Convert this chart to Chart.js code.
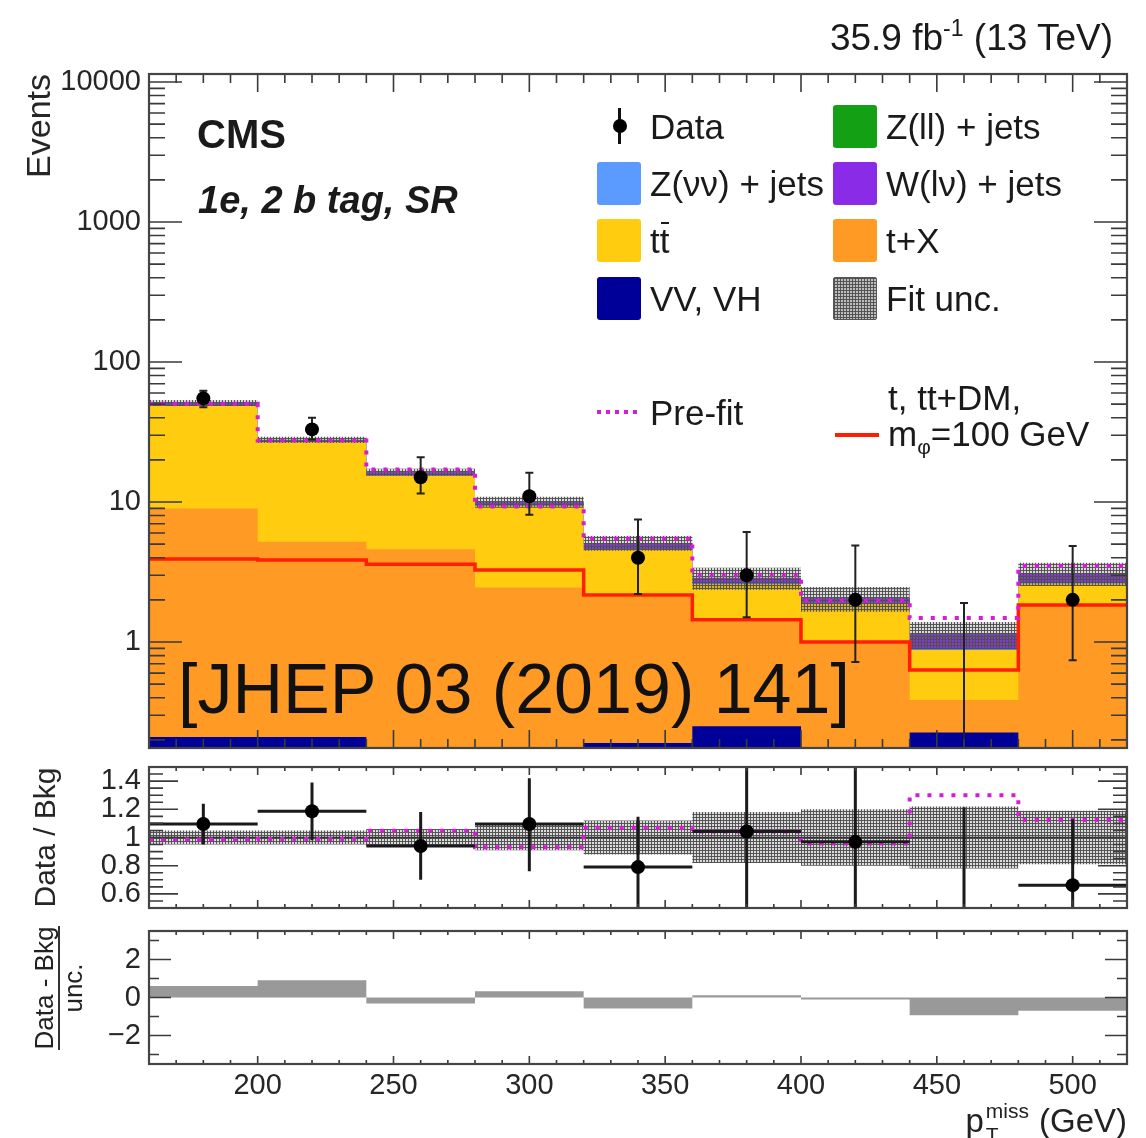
<!DOCTYPE html>
<html>
<head>
<meta charset="utf-8">
<script src="https://cdn.jsdelivr.net/npm/chart.js@4.4.1/dist/chart.umd.min.js"></script>
<style>
html,body{margin:0;padding:0;background:#fff;}
#wrap{position:relative;width:1146px;height:1138px;overflow:hidden;font-family:"Liberation Sans",Arial,Helvetica,sans-serif;color:#1a1a1a;}
#wrap canvas{position:absolute;left:0;}
.t{position:absolute;white-space:nowrap;line-height:1;}
.sw{position:absolute;width:44px;height:43px;border-radius:3px;}
</style>
</head>
<body>
<div id="wrap">
<canvas id="cMain" width="1146" height="760" style="top:0px"></canvas>
<canvas id="cRatio" width="1146" height="160" style="top:760px"></canvas>
<canvas id="cPull" width="1146" height="218" style="top:920px"></canvas>

<div class="t" style="right:33px;top:19px;font-size:37px;">35.9 fb<span style="font-size:23px;position:relative;top:-14px;">-1</span> (13 TeV)</div>
<div class="t" style="left:197px;top:114px;font-size:40px;font-weight:bold;">CMS</div>
<div class="t" style="left:198px;top:181px;font-size:38px;font-weight:bold;font-style:italic;">1e, 2 b tag, SR</div>
<div class="t" style="left:178px;top:654px;font-size:70px;color:#111;">[JHEP 03 (2019) 141]</div>

<div style="position:absolute;left:0;top:0;width:124px;transform-origin:0 0;transform:translate(31px,1050px) rotate(-90deg);text-align:center;font-size:26px;color:#222;white-space:nowrap;">
  <div style="line-height:27px;border-bottom:2.5px solid #333;">Data - Bkg</div>
  <div style="line-height:27px;">unc.</div>
</div>

<div class="t" style="right:19px;top:1104px;font-size:33px;color:#222;">p<span style="display:inline-block;position:relative;width:46px;height:1px;"><span style="position:absolute;left:2px;top:-31px;font-size:21px;line-height:1;">miss</span><span style="position:absolute;left:2px;top:-7px;font-size:21px;line-height:1;">T</span></span> (GeV)</div>

<div id="legend"></div>
</div>

<script>
// ---------------- data ----------------
const binEdges = [160, 200, 240, 280, 320, 360, 400, 440, 480, 520];
// post-fit backgrounds per process, events per bin (stack order: bottom first)
const vvVH   = [0.21, 0.21, 0.15, 0.14, 0.19, 0.25, 0.12, 0.226, 0.12];
const tPlusX = [8.79, 4.99, 4.45, 2.31, 1.91, 1.15, 0.86, 0.159, 1.68];
const ttbar  = [39.5, 21.6, 10.8, 6.95, 2.5, 1.2, 0.92, 0.492, 0.82];
const zNuNu  = [0.10, 0.05, 0.03, 0.03, 0.02, 0.02, 0.01, 0.01, 0.02];
const wLNu   = [2.35, 0.92, 0.85, 0.55, 0.47, 0.25, 0.14, 0.248, 0.45];
const zLL    = [0.05, 0.03, 0.02, 0.02, 0.01, 0.01, 0.01, 0.005, 0.01];
const fitUncRel = [0.05, 0.05, 0.06, 0.09, 0.12, 0.18, 0.20, 0.22, 0.19];
const prefitOverPostfit = [0.985, 0.99, 1.048, 0.93, 1.07, 1.043, 0.957, 1.30, 1.124];
const signalDM = [3.92, 3.85, 3.6, 3.27, 2.17, 1.44, 1.0, 0.63, 1.84];
const dataCounts  = [55, 33, 15, 11, 4, 3, 2, 0, 2];
const dataErrHigh = [62.4, 40, 20.9, 16.2, 7.5, 6.1, 4.9, 1.9, 4.85];
const dataErrLow  = [47.6, 28, 11.5, 8.1, 2.2, 1.5, 0.72, 0, 0.74];
const ratioData    = [1.096, 1.186, 0.94, 1.096, 0.79, 1.043, 0.969, null, 0.662];
const ratioErrHigh = [1.24, 1.39, 1.18, 1.42, 1.148, 2.05, 2.25, 1.214, 1.13];
const ratioErrLow  = [0.95, 0.98, 0.70, 0.76, 0.43, 0.48, 0.34, 0.0, 0.24];
const pulls = [0.6, 0.91, -0.32, 0.33, -0.58, 0.12, -0.1, -0.93, -0.7];
const yTicksMain  = [1, 10, 100, 1000, 10000];
const yTicksRatio = [0.6, 0.8, 1, 1.2, 1.4];
const yTicksPull  = [-2, 0, 2];
const xTicks = [200, 250, 300, 350, 400, 450, 500];

// ---------------- helpers ----------------
Chart.defaults.font.family = "'Liberation Sans', Arial, Helvetica, sans-serif";
const FONT = "'Liberation Sans', Arial, Helvetica, sans-serif";
const centers = binEdges.slice(0, -1).map((e, i) => (e + binEdges[i + 1]) / 2);
function histPts(vals) {
  const pts = vals.map((v, i) => ({x: binEdges[i], y: v}));
  pts.push({x: binEdges[binEdges.length - 1], y: vals[vals.length - 1]});
  return pts;
}
const layers = [
  {label: 'VV, VH', vals: vvVH, color: '#000099'},
  {label: 't+X', vals: tPlusX, color: '#FF9A24'},
  {label: 'tt', vals: ttbar, color: '#FFCC10'},
  {label: 'Z(νν) + jets', vals: zNuNu, color: '#5B9BFF'},
  {label: 'W(lν) + jets', vals: wLNu, color: '#8A2BE8'},
  {label: 'Z(ll) + jets', vals: zLL, color: '#14A014'}
];
const cumulative = [];
layers.forEach((L, k) => cumulative.push(L.vals.map((v, i) => v + (k ? cumulative[k - 1][i] : 0))));
const postfitTotal = cumulative[cumulative.length - 1];
const prefitTotal = postfitTotal.map((t, i) => t * prefitOverPostfit[i]);

function makeHatch() {
  const c = document.createElement('canvas');
  c.width = 3; c.height = 3;
  const g = c.getContext('2d');
  g.fillStyle = 'rgba(110,110,110,0.25)';
  g.fillRect(0, 0, 3, 3);
  g.fillStyle = 'rgba(80,80,80,0.95)';
  g.fillRect(0, 0, 3, 1);
  g.fillRect(0, 0, 1, 3);
  return g.createPattern(c, 'repeat');
}
const hatch = makeHatch();

const MAGENTA = '#D61CD6';
const RED = '#FF1E00';

function fitAxis(w) {
  return s => { s.width = w; s.paddingTop = 0; s.paddingBottom = 0; s.paddingLeft = 0; s.paddingRight = 0; };
}
const xMinor = [];
for (let v = 170; v < 520; v += 10) if (v % 50 !== 0) xMinor.push(v);

function rootFrame(cfg) {
  return {
    id: 'rootFrame',
    afterDatasetDraw(chart, args) {
      if (cfg.refLine == null || args.index !== cfg.refAfter) return;
      const {ctx, chartArea: a, scales: {y}} = chart;
      const p = y.getPixelForValue(cfg.refLine);
      ctx.save();
      ctx.strokeStyle = '#333'; ctx.lineWidth = 1.5;
      ctx.beginPath(); ctx.moveTo(a.left, p); ctx.lineTo(a.right, p); ctx.stroke();
      ctx.restore();
    },
    afterDatasetsDraw(chart) {
      const {ctx, chartArea: a, scales: {x, y}} = chart;
      ctx.save();
      ctx.strokeStyle = '#3a3a3a';
      ctx.lineWidth = 1.6;
      ctx.beginPath();
      const yt = (v, len) => {
        const p = y.getPixelForValue(v);
        if (p < a.top - 0.5 || p > a.bottom + 0.5) return;
        ctx.moveTo(a.left, p); ctx.lineTo(a.left + len, p);
        ctx.moveTo(a.right, p); ctx.lineTo(a.right - len, p);
      };
      const xt = (v, len) => {
        const p = x.getPixelForValue(v);
        ctx.moveTo(p, a.bottom); ctx.lineTo(p, a.bottom - len);
        ctx.moveTo(p, a.top); ctx.lineTo(p, a.top + len);
      };
      cfg.yMajor.forEach(v => yt(v, cfg.yMajorLen));
      cfg.yMinor.forEach(v => yt(v, cfg.yMinorLen));
      xTicks.forEach(v => xt(v, cfg.xMajorLen));
      xMinor.forEach(v => xt(v, cfg.xMinorLen));
      ctx.stroke();
      ctx.lineWidth = 2.2;
      ctx.strokeStyle = '#444';
      ctx.strokeRect(a.left, a.top, a.right - a.left, a.bottom - a.top);
      ctx.restore();
    }
  };
}

const errorBars = {
  id: 'errorBars',
  beforeDatasetDraw(chart, args) {
    const ds = chart.data.datasets[args.index];
    if (!ds.errHigh) return;
    const {ctx, chartArea: a, scales: {x, y}} = chart;
    const isLog = y.type === 'logarithmic';
    ctx.save();
    ctx.beginPath(); ctx.rect(a.left, a.top, a.right - a.left, a.bottom - a.top); ctx.clip();
    ctx.strokeStyle = ds.errColor; ctx.lineWidth = ds.errWidth;
    ctx.beginPath();
    ds.centersX.forEach((c, i) => {
      const hi = ds.errHigh[i], lo = ds.errLow[i];
      const px = x.getPixelForValue(c);
      const pHi = y.getPixelForValue(hi);
      const pLo = (isLog && !(lo > 0)) ? a.bottom + 5 : y.getPixelForValue(lo);
      ctx.moveTo(px, pHi); ctx.lineTo(px, pLo);
      if (ds.cap) {
        ctx.moveTo(px - ds.cap, pHi); ctx.lineTo(px + ds.cap, pHi);
        if (!(isLog && !(lo > 0))) { ctx.moveTo(px - ds.cap, pLo); ctx.lineTo(px + ds.cap, pLo); }
      }
      const v = ds.data[i].y;
      if (ds.xErr && v != null) {
        const pv = y.getPixelForValue(v);
        ctx.moveTo(x.getPixelForValue(binEdges[i]), pv);
        ctx.lineTo(x.getPixelForValue(binEdges[i + 1]), pv);
      }
    });
    ctx.stroke();
    ctx.restore();
  }
};

const tickFont = {family: FONT, size: 29};
const tickColor = '#262626';

// ---------------- main panel ----------------
const mainDatasets = [];
layers.forEach((L, k) => {
  mainDatasets.push({
    label: L.label, data: histPts(cumulative[k]), stepped: 'before', fill: 'start',
    backgroundColor: L.color, borderColor: L.color, borderWidth: 0, pointRadius: 0, order: 20 + k
  });
});
mainDatasets.push({label: 'Fit unc. up', data: histPts(postfitTotal.map((t, i) => t * (1 + fitUncRel[i]))),
  stepped: 'before', fill: '+1', backgroundColor: hatch, borderWidth: 0, pointRadius: 0, order: 10});
mainDatasets.push({label: 'Fit unc. down', data: histPts(postfitTotal.map((t, i) => t * (1 - fitUncRel[i]))),
  stepped: 'before', fill: false, borderWidth: 0, pointRadius: 0, order: 11});
mainDatasets.push({label: 't, tt+DM', data: histPts(signalDM), stepped: 'before', fill: false,
  borderColor: RED, borderWidth: 3.5, pointRadius: 0, order: 5});
mainDatasets.push({label: 'Pre-fit', data: histPts(prefitTotal), stepped: 'before', fill: false,
  borderColor: MAGENTA, borderWidth: 4, borderDash: [4, 8], borderCapStyle: 'butt', pointRadius: 0, order: 4});
mainDatasets.push({label: 'Data', data: dataCounts.map((v, i) => ({x: centers[i], y: v > 0 ? v : null})),
  showLine: false, pointRadius: 7, pointBackgroundColor: '#000', pointBorderWidth: 0, order: 1,
  centersX: centers, errHigh: dataErrHigh, errLow: dataErrLow, errColor: '#222', errWidth: 2, cap: 4});

const logMinor = [];
for (let d = -1; d <= 4; d++) for (let k = 2; k <= 9; k++) logMinor.push(k * Math.pow(10, d));

const noGrid = {display: false, drawTicks: false};

new Chart(document.getElementById('cMain'), {
  type: 'line',
  data: {datasets: mainDatasets},
  options: {
    responsive: false, animation: false, events: [],
    layout: {padding: {left: 0, right: 19, top: 74, bottom: 12}},
    plugins: {legend: {display: false}, tooltip: {enabled: false}},
    scales: {
      x: {type: 'linear', min: 160, max: 520, display: false},
      y: {
        type: 'logarithmic', min: 0.175, max: 11400,
        afterBuildTicks: s => { s.ticks = yTicksMain.map(v => ({value: v})); },
        afterFit: fitAxis(149),
        grid: noGrid, border: {display: false},
        ticks: {autoSkip: false, padding: 8, color: tickColor, font: tickFont, callback: v => String(v)},
        title: {display: true, text: 'Events', align: 'end', color: '#262626', font: {family: FONT, size: 34}, padding: {top: 20, bottom: 0}}
      }
    }
  },
  plugins: [errorBars, rootFrame({yMajor: [0.1, 1, 10, 100, 1000, 10000], yMinor: logMinor, yMajorLen: 33, yMinorLen: 16, xMajorLen: 18, xMinorLen: 9})]
});

// ---------------- ratio panel ----------------
const ratioMinor = [];
for (let k = 10; k <= 30; k++) { const v = k * 0.05; if (k % 4 !== 0) ratioMinor.push(Math.round(v * 100) / 100); }
new Chart(document.getElementById('cRatio'), {
  type: 'line',
  data: {datasets: [
    {label: 'Fit unc. up', data: histPts(fitUncRel.map(u => 1 + u)), stepped: 'before', fill: '+1',
      backgroundColor: hatch, borderWidth: 0, pointRadius: 0, order: 10},
    {label: 'Fit unc. down', data: histPts(fitUncRel.map(u => 1 - u)), stepped: 'before', fill: false,
      borderWidth: 0, pointRadius: 0, order: 11},
    {label: 'Pre-fit', data: histPts(prefitOverPostfit), stepped: 'before', fill: false,
      borderColor: MAGENTA, borderWidth: 4, borderDash: [4, 8], borderCapStyle: 'butt', pointRadius: 0, order: 4},
    {label: 'Data', data: ratioData.map((v, i) => ({x: centers[i], y: v})), showLine: false,
      pointRadius: 7, pointBackgroundColor: '#000', pointBorderWidth: 0, order: 1,
      centersX: centers, errHigh: ratioErrHigh, errLow: ratioErrLow, errColor: '#1a1a1a', errWidth: 3, xErr: true}
  ]},
  options: {
    responsive: false, animation: false, events: [],
    layout: {padding: {left: 0, right: 19, top: 6, bottom: 12}},
    plugins: {legend: {display: false}, tooltip: {enabled: false}},
    scales: {
      x: {type: 'linear', min: 160, max: 520, display: false},
      y: {
        type: 'linear', min: 0.5, max: 1.5,
        afterBuildTicks: s => { s.ticks = yTicksRatio.map(v => ({value: v})); },
        afterFit: fitAxis(149),
        grid: noGrid, border: {display: false},
        ticks: {autoSkip: false, padding: 8, color: tickColor, font: tickFont, callback: v => String(Math.round(v * 10) / 10)},
        title: {display: true, text: 'Data / Bkg', align: 'center', color: '#262626', font: {family: FONT, size: 30}, padding: {top: 29, bottom: 0}}
      }
    }
  },
  plugins: [errorBars, rootFrame({yMajor: [0.6, 0.8, 1.0, 1.2, 1.4], yMinor: ratioMinor, yMajorLen: 29, yMinorLen: 14, xMajorLen: 8, xMinorLen: 4, refLine: 1, refAfter: 0})]
});

// ---------------- pull panel ----------------
new Chart(document.getElementById('cPull'), {
  type: 'line',
  data: {datasets: [
    {label: '(Data - Bkg)/unc.', data: histPts(pulls), stepped: 'before', fill: {value: 0},
      backgroundColor: '#999999', borderWidth: 0, pointRadius: 0}
  ]},
  options: {
    responsive: false, animation: false, events: [],
    layout: {padding: {left: 0, right: 19, top: 11, bottom: 0}},
    plugins: {legend: {display: false}, tooltip: {enabled: false}},
    scales: {
      x: {
        type: 'linear', min: 160, max: 520, position: 'bottom',
        afterBuildTicks: s => { s.ticks = xTicks.map(v => ({value: v})); },
        afterFit: s => { s.height = 74; s.paddingLeft = 0; s.paddingRight = 0; s.paddingTop = 0; s.paddingBottom = 0; },
        grid: noGrid, border: {display: false},
        ticks: {autoSkip: false, maxRotation: 0, padding: 5, color: tickColor, font: tickFont, callback: v => String(v)}
      },
      y: {
        type: 'linear', min: -3.5, max: 3.5,
        afterBuildTicks: s => { s.ticks = yTicksPull.map(v => ({value: v})); },
        afterFit: fitAxis(149),
        grid: noGrid, border: {display: false},
        ticks: {autoSkip: false, padding: 8, color: tickColor, font: tickFont, callback: v => (v < 0 ? '\u2212' + Math.abs(v) : String(v))}
      }
    }
  },
  plugins: [rootFrame({yMajor: [-2, 0, 2], yMinor: [-3, -1, 1, 3], yMajorLen: 22, yMinorLen: 10, xMajorLen: 8, xMinorLen: 4})]
});

// ---------------- legend (HTML) ----------------
const legend = document.getElementById('legend');
const colLeft = [597, 833];
const rowMid = [126, 183, 240, 298];
const LFS = 35;
function addText(html, left, mid, size) {
  const d = document.createElement('div');
  d.className = 't';
  d.style.left = left + 'px';
  d.style.top = (mid - 0.488 * size) + 'px';
  d.style.fontSize = size + 'px';
  d.innerHTML = html;
  legend.appendChild(d);
}
function addSwatch(left, mid, bg, extra) {
  const d = document.createElement('div');
  d.className = 'sw';
  d.style.left = left + 'px';
  d.style.top = (mid - 21.5) + 'px';
  d.style.background = bg;
  if (extra) Object.assign(d.style, extra);
  legend.appendChild(d);
}
const byLabel = Object.fromEntries(layers.map(L => [L.label, L.color]));
// Data marker
(function () {
  const bar = document.createElement('div');
  Object.assign(bar.style, {position: 'absolute', left: (colLeft[0] + 21) + 'px', top: (rowMid[0] - 18) + 'px', width: '2.5px', height: '36px', background: '#111'});
  legend.appendChild(bar);
  const dot = document.createElement('div');
  Object.assign(dot.style, {position: 'absolute', left: (colLeft[0] + 15.5) + 'px', top: (rowMid[0] - 7) + 'px', width: '14px', height: '14px', borderRadius: '50%', background: '#000'});
  legend.appendChild(dot);
})();
addText('Data', colLeft[0] + 53, rowMid[0], LFS);
addSwatch(colLeft[0], rowMid[1], byLabel['Z(νν) + jets']);
addText('Z(νν) + jets', colLeft[0] + 53, rowMid[1], LFS);
addSwatch(colLeft[0], rowMid[2], byLabel['tt']);
addText('t<span style="position:relative;">t<span style="position:absolute;left:1px;right:0px;top:1px;height:2.5px;background:#1a1a1a;"></span></span>', colLeft[0] + 53, rowMid[2], LFS);
addSwatch(colLeft[0], rowMid[3], byLabel['VV, VH']);
addText('VV, VH', colLeft[0] + 53, rowMid[3], LFS);
addSwatch(colLeft[1], rowMid[0], byLabel['Z(ll) + jets']);
addText('Z(ll) + jets', colLeft[1] + 53, rowMid[0], LFS);
addSwatch(colLeft[1], rowMid[1], byLabel['W(lν) + jets']);
addText('W(lν) + jets', colLeft[1] + 53, rowMid[1], LFS);
addSwatch(colLeft[1], rowMid[2], byLabel['t+X']);
addText('t+X', colLeft[1] + 53, rowMid[2], LFS);
addSwatch(colLeft[1], rowMid[3], '#bdbdbd', {
  backgroundImage: 'linear-gradient(rgba(80,80,80,0.95) 1px, transparent 1px), linear-gradient(90deg, rgba(80,80,80,0.95) 1px, transparent 1px)',
  backgroundSize: '3px 3px', border: '1.5px solid #555', boxSizing: 'border-box', borderRadius: '2px'
});
addText('Fit unc.', colLeft[1] + 53, rowMid[3], LFS);
// Pre-fit dotted and signal line samples
(function () {
  const l = document.createElement('div');
  Object.assign(l.style, {position: 'absolute', left: colLeft[0] + 'px', top: '410px', width: '44px', height: '4px',
    backgroundImage: 'linear-gradient(90deg, ' + MAGENTA + ' 4px, transparent 4px)', backgroundSize: '9px 4px'});
  legend.appendChild(l);
  const r = document.createElement('div');
  Object.assign(r.style, {position: 'absolute', left: (colLeft[1] + 2) + 'px', top: '433px', width: '44px', height: '4px', background: RED});
  legend.appendChild(r);
})();
addText('Pre-fit', colLeft[0] + 53, 412, LFS);
addText('t, tt+DM,', colLeft[1] + 55, 397, LFS);
addText('m<span style="font-size:21px;position:relative;top:8px;">φ</span>=100 GeV', colLeft[1] + 55, 433, LFS);
</script>
</body>
</html>
